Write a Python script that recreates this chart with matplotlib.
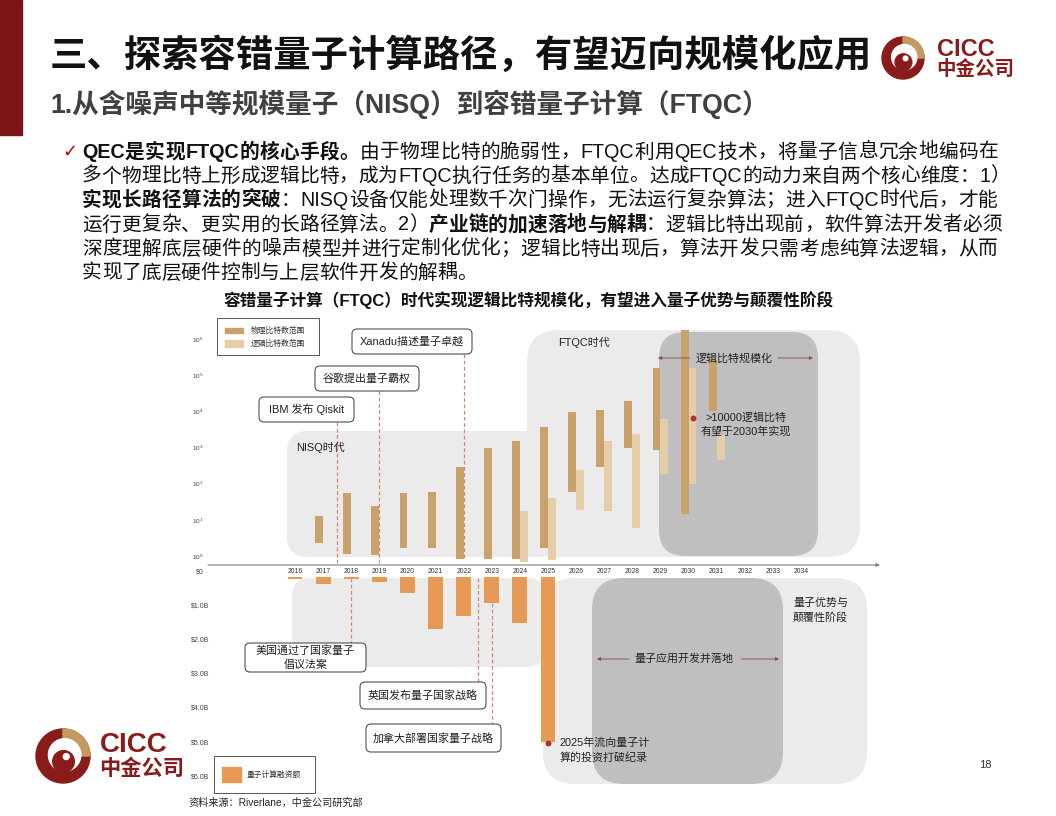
import matplotlib
matplotlib.use("Agg")
import matplotlib.pyplot as plt
from matplotlib.patches import FancyBboxPatch, Rectangle, Circle, Wedge
from matplotlib.ticker import NullLocator
import numpy as np

# Latin glyphs from Liberation Sans (Arial metrics), CJK glyphs fall back to Noto
FONTS = ['Liberation Sans', 'Noto Sans CJK SC', 'DejaVu Sans']
plt.rcParams['font.family'] = FONTS

# ---- data ----
years = list(range(2016, 2035))

# physical qubit range per year (low, high)
phys_years = [2017, 2018, 2019, 2020, 2021, 2022, 2023, 2024, 2025, 2026, 2027, 2028, 2029, 2030, 2031]
phys_lo = [2.3, 1.15, 1.07, 1.7, 1.7, 0.83, 0.83, 0.83, 1.7, 59, 290, 950, 850, 14.5, 10200]
phys_hi = [13, 55, 24, 55, 59, 290, 950, 1500, 3600, 9500, 10700, 19000, 155000, 1700000, 257000]

# logical qubit range per year (low, high)
log_years = [2024, 2025, 2026, 2027, 2028, 2029, 2030, 2031]
log_lo = [0.68, 0.78, 19, 17, 5.9, 186, 98, 450]
log_hi = [17, 40, 240, 1500, 2300, 6000, 155000, 2200]

# quantum computing funding, $B
fund_years = [2016, 2017, 2018, 2019, 2020, 2021, 2022, 2023, 2024, 2025]
fund_vals = [0.06, 0.2, 0.06, 0.15, 0.47, 1.52, 1.14, 0.76, 1.35, 4.82]

fund_ticks = [0, 1, 2, 3, 4, 5, 6]
fund_labels = ["\\$0", "\\$1.0B", "\\$2.0B", "\\$3.0B", "\\$4.0B", "\\$5.0B", "\\$6.0B"]

PHYS = "#C9A16A"
LOGI = "#E5CDA9"
FUND = "#E69A55"
LIGHT = "#EBEBEB"
DARK = "#BFBFC0"
DASH = "#D4856E"
ARROW = "#8E4A3C"
DRED = "#8A1B1B"
TAN = "#C49A5E"

W, H = 1056, 816
fig = plt.figure(figsize=(W / 100, H / 100), dpi=100)


def rect(x0, y0, x1, y1):
    return [x0 / W, 1 - y1 / H, (x1 - x0) / W, (y1 - y0) / H]


def pixel_axes(z):
    a = fig.add_axes([0, 0, 1, 1], zorder=z)
    a.set_xlim(0, W)
    a.set_ylim(H, 0)
    a.axis('off')
    a.patch.set_alpha(0)
    return a


bg = pixel_axes(0)
ov = pixel_axes(3)

# ---- chart axes ----
ax_top = fig.add_axes(rect(208, 325, 878, 565), zorder=1)
ax_bot = fig.add_axes(rect(208, 565, 878, 800), zorder=1)
for a in (ax_top, ax_bot):
    a.patch.set_alpha(0)
    for s in a.spines.values():
        s.set_visible(False)
    a.set_xlim(2012.905, 2036.74)

ax_top.set_yscale('log')
ax_top.set_ylim(10 ** -0.249, 10 ** 6.381)
ax_top.set_yticks([10 ** k for k in range(7)])
ax_top.yaxis.set_minor_locator(NullLocator())
ax_top.set_xticks(years)
ax_top.set_xticklabels([str(y) for y in years])
ax_top.tick_params(axis='y', length=0, labelsize=4.6, pad=3, labelcolor='#444444')
ax_top.tick_params(axis='x', length=0, labelsize=4.9, pad=2.2, labelcolor='#333333')

ax_top.bar(np.array(phys_years) - 0.14, np.array(phys_hi) - np.array(phys_lo), bottom=phys_lo,
           width=0.28, color=PHYS, zorder=2)
ax_top.bar(np.array(log_years) + 0.14, np.array(log_hi) - np.array(log_lo), bottom=log_lo,
           width=0.28, color=LOGI, zorder=2)

ax_bot.set_ylim(6.52, -0.351)
ax_bot.set_xticks([])
ax_bot.set_yticks([])
ax_bot.bar(fund_years, fund_vals, width=0.53, color=FUND, zorder=2)


def yx(year):
    return ax_top.transData.transform((year, 1))[0]


def bot_y(v):
    return H - ax_bot.transData.transform((2016, v))[1]


for v, lab in zip(fund_ticks, fund_labels):
    ov.text(200, bot_y(v) - 5.5, lab, fontsize=5, ha='center', va='center', color='#444444')

# ---- grey phase regions ----
def rbox(ax, x0, y0, x1, y1, color, r, z=0, **kw):
    ax.add_patch(FancyBboxPatch((x0, y0), x1 - x0, y1 - y0,
                                boxstyle="round,pad=0,rounding_size=%g" % r,
                                facecolor=color, zorder=z, **kw))


rbox(bg, 287, 431, 560, 557, LIGHT, 20, edgecolor='none')
rbox(bg, 527, 330, 860, 557, LIGHT, 32, edgecolor='none')
rbox(bg, 659, 332, 818, 556, DARK, 26, edgecolor='none')
rbox(bg, 292, 578, 545, 667, LIGHT, 18, edgecolor='none')
rbox(bg, 543, 578, 867, 784, LIGHT, 32, edgecolor='none')
rbox(bg, 592, 578, 783, 784, DARK, 32, edgecolor='none')

# axis arrow
ov.annotate('', xy=(880, 565), xytext=(208, 565),
            arrowprops=dict(arrowstyle='-|>', color='#7F7F7F', lw=0.8, mutation_scale=5,
                            shrinkA=0, shrinkB=0))

LS = 1.45  # line spacing for two-line labels

# ---- milestone callouts ----
def callout(x0, y0, x1, y1, text):
    rbox(ov, x0, y0, x1, y1, 'white', 5, z=4, edgecolor='#505050', lw=0.8)
    ov.text((x0 + x1) / 2, (y0 + y1) / 2, text, fontsize=7.9, ha='center', va='center',
            color='#222222', zorder=5, linespacing=LS - 0.1)


def dashline(year, y0, y1):
    ov.plot([yx(year), yx(year)], [y0, y1], color=DASH, lw=0.9, ls=(0, (3, 2)), zorder=3)


dashline(2017.5, 422, 563)
dashline(2019, 391, 563)
dashline(2022, 354, 560)
dashline(2018, 578, 643)
dashline(2022.5, 578, 682)
dashline(2023, 603, 724)

callout(259, 397, 354, 422, "IBM 发布 Qiskit")
callout(315, 366, 419, 391, "谷歌提出量子霸权")
callout(352, 329, 472, 354, "Xanadu描述量子卓越")
callout(245, 643, 366, 672, "美国通过了国家量子\n倡议法案")
callout(360, 682, 486, 709, "英国发布量子国家战略")
callout(366, 724, 501, 752, "加拿大部署国家量子战略")

# region labels
ov.text(296, 447, "NISQ时代", fontsize=7.9, ha='left', va='center', color='#222222')
ov.text(558, 342, "FTQC时代", fontsize=7.9, ha='left', va='center', color='#222222')
ov.text(793, 610, "量子优势与\n颠覆性阶段", fontsize=7.9, ha='left', va='center',
        color='#222222', linespacing=LS)

arrow_kw = dict(arrowstyle='-|>', color=ARROW, lw=0.6, mutation_scale=5, shrinkA=0, shrinkB=0)
ov.text(734, 358, "逻辑比特规模化", fontsize=7.9, ha='center', va='center', color='#222222')
ov.annotate('', xy=(658, 358), xytext=(690, 358), arrowprops=arrow_kw)
ov.annotate('', xy=(813, 358), xytext=(778, 358), arrowprops=arrow_kw)

ov.text(684, 659, "量子应用开发并落地", fontsize=7.9, ha='center', va='center', color='#222222')
ov.annotate('', xy=(597, 659), xytext=(629, 659), arrowprops=arrow_kw)
ov.annotate('', xy=(779, 659), xytext=(741, 659), arrowprops=arrow_kw)

ov.scatter([yx(2030) + 4], [418], s=18, color='#B3321F', zorder=6, linewidths=0)
ov.text(746, 424.5, ">10000逻辑比特\n有望于2030年实现", fontsize=7.9, ha='center', va='center',
        color='#222222', linespacing=LS)
ov.scatter([yx(2025)], [743], s=18, color='#B3321F', zorder=6, linewidths=0)
ov.text(560, 750, "2025年流向量子计\n算的投资打破纪录", fontsize=7.9, ha='left', va='center',
        color='#222222', linespacing=LS)

# legends
ov.add_patch(Rectangle((217, 318), 102, 37, facecolor='white', edgecolor='#555555', lw=0.7, zorder=4))
ov.add_patch(Rectangle((225, 327.5), 18, 5.5, color=PHYS, zorder=5))
ov.add_patch(Rectangle((225, 340), 18, 7, color=LOGI, zorder=5))
ov.text(251, 330.5, "物理比特数范围", fontsize=5.6, va='center', color='#333333', zorder=5)
ov.text(251, 343.5, "逻辑比特数范围", fontsize=5.6, va='center', color='#333333', zorder=5)

ov.add_patch(Rectangle((214, 756), 101, 37, facecolor='white', edgecolor='#555555', lw=0.7, zorder=4))
ov.add_patch(Rectangle((222, 767), 19, 15, color=FUND, zorder=5))
ov.text(247, 775, "量子计算融资额", fontsize=5.6, va='center', color='#333333', zorder=5)

ov.text(529, 300, "容错量子计算（FTQC）时代实现逻辑比特规模化，有望进入量子优势与颠覆性阶段",
        fontsize=12, fontweight='bold', ha='center', va='center', color='#111111')
ov.text(188, 803, "资料来源：Riverlane，中金公司研究部", fontsize=7.3, ha='left', va='center',
        color='#222222')
ov.text(985, 765, "18", fontsize=8, ha='center', va='center', color='#333333')

# ---- slide header ----
bg.add_patch(Rectangle((0, 0), 22, 135, color='#7D1416'))
ov.text(50, 56, "三、探索容错量子计算路径，有望迈向规模化应用", fontsize=26.9, fontweight='bold',
        ha='left', va='center', color='#111111')
ov.text(50, 104, "1.从含噪声中等规模量子（NISQ）到容错量子计算（FTQC）", fontsize=19.2,
        fontweight='bold', ha='left', va='center', color='#404040')


def logo(cx, cy, r):
    ov.add_patch(Circle((cx, cy), r, color=DRED, zorder=5))
    ov.add_patch(Wedge((cx, cy), r, 270, 360, color=TAN, zorder=5))
    ov.add_patch(Circle((cx + 0.06 * r, cy - 0.04 * r), 0.6 * r, color='white', zorder=5))
    ov.add_patch(Circle((cx + 0.02 * r, cy + 0.2 * r), 0.4 * r, color=DRED, zorder=5))
    ov.add_patch(Circle((cx + 0.12 * r, cy + 0.02 * r), 0.11 * r, color='white', zorder=5))


logo(903, 58, 21)
ov.text(937, 49, "CICC", fontsize=17, fontweight='bold', color=DRED, va='center', ha='left')
ov.text(936, 69, "中金公司", fontsize=14, fontweight='bold', color=DRED, va='center', ha='left')
logo(63, 756, 27)
ov.text(100, 745.5, "CICC", fontsize=20, fontweight='bold', color=DRED, va='center', ha='left')
ov.text(99, 769, "中金公司", fontsize=15.3, fontweight='bold', color=DRED, va='center', ha='left')

# ---- bullet paragraph (justified) ----
para = [
    [("QEC是实现FTQC的核心手段。", True), ("由于物理比特的脆弱性，FTQC利用QEC技术，将量子信息冗余地编码在", False)],
    [("多个物理比特上形成逻辑比特，成为FTQC执行任务的基本单位。达成FTQC的动力来自两个核心维度：1）", False)],
    [("实现长路径算法的突破", True), ("：NISQ设备仅能处理数千次门操作，无法运行复杂算法；进入FTQC时代后，才能", False)],
    [("运行更复杂、更实用的长路径算法。2）", False), ("产业链的加速落地与解耦", True),
     ("：逻辑比特出现前，软件算法开发者必须", False)],
    [("深度理解底层硬件的噪声模型并进行定制化优化；逻辑比特出现后，算法开发只需考虑纯算法逻辑，从而", False)],
    [("实现了底层硬件控制与上层软件开发的解耦。", False)],
]
line_y = [152, 176, 200, 225, 249, 273]
PSIZE = 14.2
renderer = fig.canvas.get_renderer()
cache = {}


def seg_w(s, bold):
    key = (s, bold)
    if key not in cache:
        t = ov.text(0, 0, s, fontsize=PSIZE, fontweight='bold' if bold else 'normal')
        cache[key] = t.get_window_extent(renderer=renderer).width
        t.remove()
    return cache[key]


def tokens(s):
    # keep runs of ASCII letters/digits together so latin words keep their kerning
    out, buf = [], ""
    for c in s:
        if c.isascii() and c.isalnum():
            buf += c
        else:
            if buf:
                out.append(buf)
                buf = ""
            out.append(c)
    if buf:
        out.append(buf)
    return out


ov.text(62, 152, "\u2713", fontsize=13, color='#C00000', va='center', ha='left', family='DejaVu Sans')
for i, segs in enumerate(para):
    toks = [(t, b) for s, b in segs for t in tokens(s)]
    total = sum(seg_w(t, b) for t, b in toks)
    gap = 0.0
    if i < len(para) - 1:
        gap = max(0.0, (998 - 82 - total) / (len(toks) - 1))
    x = 82
    for t, b in toks:
        ov.text(x, line_y[i], t, fontsize=PSIZE, fontweight='bold' if b else 'normal',
                va='center', ha='left', color='#111111')
        x += seg_w(t, b) + gap

fig.savefig("out.png", dpi=100)
